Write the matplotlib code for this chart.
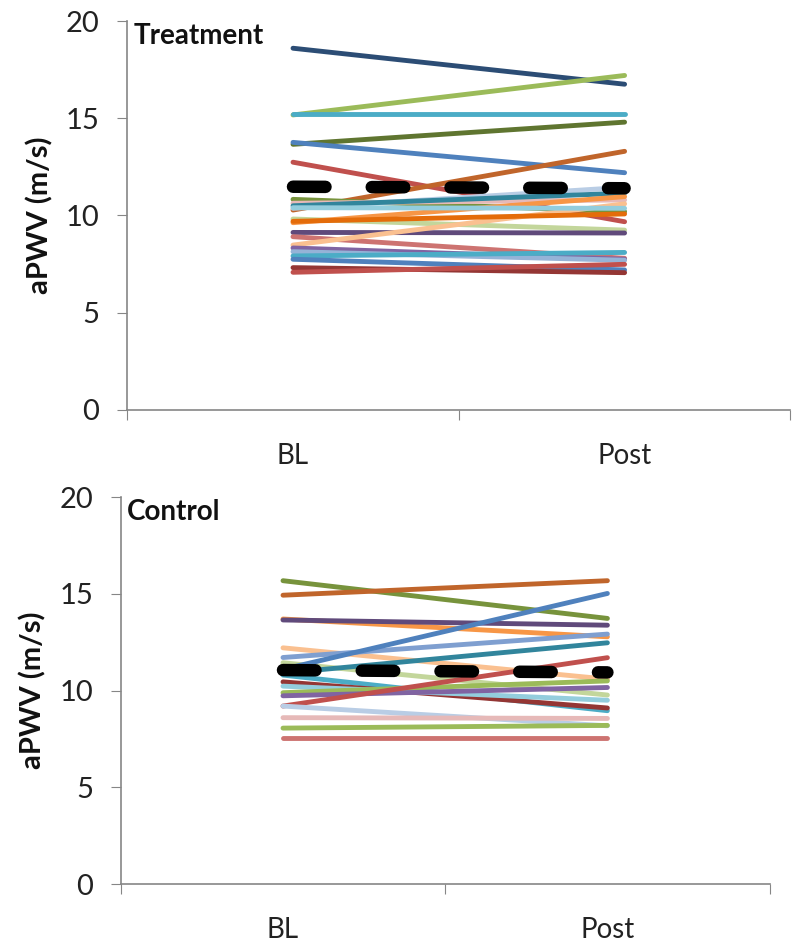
import matplotlib
matplotlib.use("Agg")
import matplotlib.pyplot as plt

plt.rcParams['font.family'] = ['Lato', 'DejaVu Sans']

groups = ["BL", "Post"]
y_ticks = [0, 5, 10, 15, 20]

# Treatment: baseline / post values per subject
treat_bl = [18.6, 15.17, 15.2, 13.66, 13.76, 12.74, 10.28, 10.83, 10.63, 10.37, 10.5, 9.82,
            9.63, 9.13, 8.91, 8.48, 8.33, 8.14, 7.92, 7.75, 7.32, 7.08, 9.7, 10.4]
treat_post = [16.75, 17.2, 15.2, 14.8, 12.2, 9.68, 13.3, 10.2, 10.8, 11.45, 11.15, 9.25,
              10.97, 9.1, 7.8, 10.6, 7.75, 7.7, 8.1, 7.2, 7.06, 7.49, 10.08, 10.37]
treat_colors = ["#2C4D75", "#9BBB59", "#4BACC6", "#5F7530", "#4F81BD", "#C0504D", "#C0652B",
                "#77933C", "#E6B9B8", "#B9CDE5", "#31859C", "#C3D69B", "#F79646", "#604A7B",
                "#CD7371", "#FAC090", "#8064A2", "#95B3D7", "#4BACC6", "#4F81BD", "#943634",
                "#C0504D", "#E46C0A", "#93CDDD"]
treat_mean = [11.48, 11.4]

# Control
ctrl_bl = [15.68, 14.93, 13.7, 13.65, 12.21, 11.71, 11.44, 11.1, 10.9, 10.8, 10.45, 10.23,
           9.89, 9.73, 9.2, 9.2, 8.6, 8.06, 7.53]
ctrl_post = [13.73, 15.68, 12.78, 13.38, 10.59, 12.92, 9.77, 15.02, 12.47, 8.96, 9.1, 9.5,
             10.5, 10.16, 11.7, 8.18, 8.56, 8.2, 7.53]
ctrl_colors = ["#77933C", "#C0652B", "#F79646", "#604A7B", "#FAC090", "#7F9FD0", "#C3D69B",
               "#4F81BD", "#31859C", "#4BACC6", "#943634", "#93CDDD", "#9BBB59", "#8064A2",
               "#C0504D", "#B9CDE5", "#E6B9B8", "#9BBB59", "#CD7371"]
ctrl_mean = [11.06, 10.94]


def panel(ax, bl, post, colors, mean, title):
    x = [0.5, 1.5]
    for b, p, c in zip(bl, post, colors):
        ax.plot(x, [b, p], color=c, lw=3.5, solid_capstyle='round')
    ax.plot(x, mean, color='black', lw=9, dashes=(2.6, 3.7), dash_capstyle='round')
    ax.set_xlim(0, 2)
    ax.set_ylim(0, 20)
    ax.set_yticks(y_ticks)
    ax.set_xticks([0, 1, 2], minor=False)
    ax.set_xticklabels([])
    ax.set_xticks(x, minor=True)
    ax.set_xticklabels(groups, minor=True)
    ax.tick_params(axis='x', which='minor', length=0, pad=24, labelsize=20, colors='#222222')
    ax.tick_params(axis='x', which='major', length=7, color='#868686')
    ax.tick_params(axis='y', length=7, pad=13, labelsize=21, color='#868686', labelcolor='#222222')
    for s in ['top', 'right']:
        ax.spines[s].set_visible(False)
    for s in ['left', 'bottom']:
        ax.spines[s].set_color('#868686')
        ax.spines[s].set_linewidth(1.2)
    ax.set_ylabel("aPWV (m/s)", fontsize=21, fontweight='bold', labelpad=9, color='#111111')
    ax.text(0.009, 0.962, title, transform=ax.transAxes, fontsize=20, fontweight='bold',
            va='center', ha='left', color='#111111')


fig = plt.figure(figsize=(8, 9.46), dpi=100)
ax1 = fig.add_axes([0.159, 0.5666, 0.829, 0.4112])
ax2 = fig.add_axes([0.151, 0.0655, 0.811, 0.409])
panel(ax1, treat_bl, treat_post, treat_colors, treat_mean, "Treatment")
panel(ax2, ctrl_bl, ctrl_post, ctrl_colors, ctrl_mean, "Control")

fig.savefig("out.png", dpi=100)
